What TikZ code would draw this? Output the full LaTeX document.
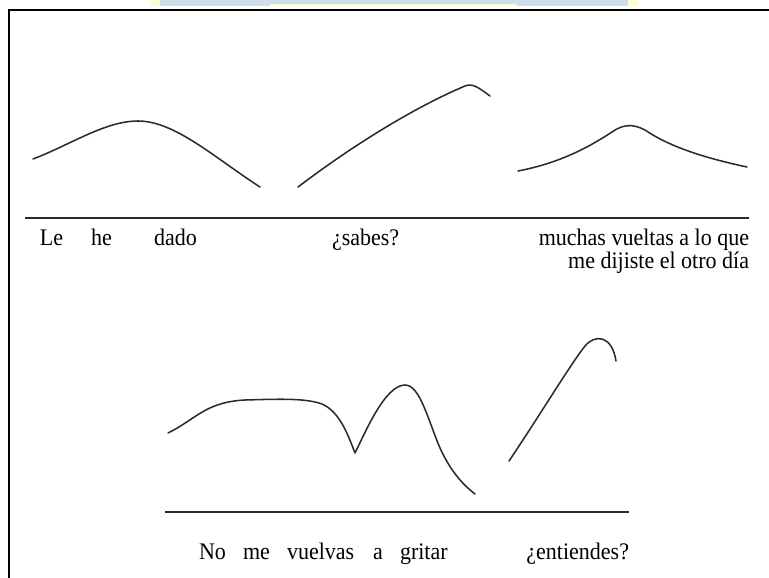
\documentclass[tikz,border=0pt]{standalone}
\usepackage{fontspec}
\setmainfont{Liberation Serif}
\definecolor{inkc}{HTML}{2E2A28}
\definecolor{stripblue}{HTML}{CCDDEB}
\definecolor{stripyellow}{HTML}{FFFBD2}
\tikzset{
  contour/.style={draw=inkc, line width=1.15pt, line cap=round, line join=round},
  baseline rule/.style={draw=inkc, line width=0.9pt},
  frame/.style={draw=black, line width=1.4pt},
  word/.style={inner sep=0pt, outer sep=0pt, font=\fontsize{16.5}{19}\selectfont, text=black}
}
\begin{document}
\begin{tikzpicture}[x=0.75pt,y=-0.75pt]
\useasboundingbox (0,0) rectangle (769,578);
% top strip
\fill[stripyellow] (149,0) rectangle (637,6);
\fill[stripblue] (160,0) rectangle (628,6);
\fill[stripyellow] (270,3.5) rectangle (517,6);
% frame
\coordinate (fbl) at (9,578);
\coordinate (ftl) at (9,10);
\coordinate (ftr) at (769,10);
\draw[frame] (fbl) -- (ftl) -- (ftr);
% top contours
\draw[contour] (33,159) .. controls (70,145) and (105,121) .. (138,121)
                        .. controls (175,121) and (215,158) .. (260,187);
\draw[contour] (298,187) .. controls (360,140) and (420,105) .. (465,86)
                         .. controls (472,83) and (478,87) .. (490,96);
\draw[contour] (518,171) .. controls (565,162) and (595,143) .. (612,132)
                         .. controls (622,125) and (632,123) .. (645,130)
                         .. controls (670,147) and (705,158) .. (747,167);
% top rule
\coordinate (r1a) at (25,218);
\coordinate (r1b) at (749,218);
\draw[baseline rule] (r1a) -- (r1b);
% top words
\node[word, anchor=base west] (w1) at (40,245) {\scalebox{1}[1.08]{Le}};
\node[word, anchor=base west] (w2) at (91,245) {\scalebox{1}[1.08]{he}};
\node[word, anchor=base west] (w3) at (154,245) {\scalebox{1}[1.08]{dado}};
\node[word, anchor=base west] (w4) at (332,245) {\scalebox{1}[1.08]{¿sabes?}};
\node[word, anchor=base east] (w5) at (749,245) {\scalebox{1}[1.08]{muchas vueltas a lo que}};
\node[word, anchor=base east] (w6) at (749,268) {\scalebox{1}[1.08]{me dijiste el otro día}};
% bottom contours
\draw[contour] (168,433) .. controls (195,420) and (205,402) .. (245,400)
                         .. controls (280,399) and (305,398) .. (322,404)
                         .. controls (340,412) and (348,435) .. (355,453)
                         .. controls (365,433) and (385,385) .. (405,385)
                         .. controls (420,385) and (428,420) .. (440,448)
                         .. controls (450,470) and (462,484) .. (475,494);
\draw[contour] (509,461) .. controls (540,415) and (570,365) .. (585,346)
                         .. controls (595,334) and (612,335) .. (616,361);
% bottom rule
\coordinate (r2a) at (165,512);
\coordinate (r2b) at (629,512);
\draw[baseline rule] (r2a) -- (r2b);
% bottom words
\node[word, anchor=base west] (b1) at (199,559) {\scalebox{1}[1.08]{No}};
\node[word, anchor=base west] (b2) at (243,559) {\scalebox{1}[1.08]{me}};
\node[word, anchor=base west] (b3) at (287,559) {\scalebox{1}[1.08]{vuelvas}};
\node[word, anchor=base west] (b4) at (373,559) {\scalebox{1}[1.08]{a}};
\node[word, anchor=base west] (b5) at (400,559) {\scalebox{1}[1.08]{gritar}};
\node[word, anchor=base east] (b6) at (629,559) {\scalebox{1}[1.08]{¿entiendes?}};
\end{tikzpicture}
\end{document}
